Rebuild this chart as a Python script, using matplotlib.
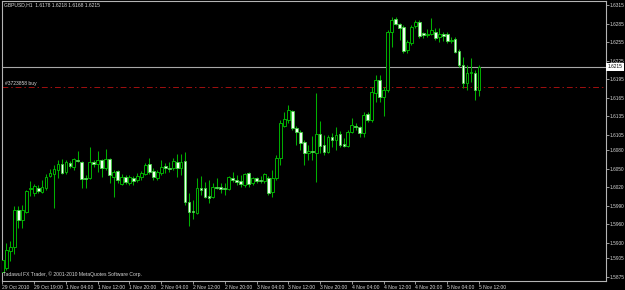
import numpy as np
import matplotlib
matplotlib.use('Agg')
import matplotlib.pyplot as plt

plt.rcParams['font.family'] = ['Liberation Sans', 'DejaVu Sans']

# GBPUSD H1 candles, 29 Oct 2010 -> 5 Nov 2010 12:00
opens = [
    1.5883, 1.5889, 1.5917, 1.5924, 1.5983, 1.5967, 1.5980, 1.6017, 1.6011, 1.6019,
    1.6012, 1.6019, 1.6038, 1.6042, 1.6048, 1.6058, 1.6045, 1.6059, 1.6053, 1.6064,
    1.6061, 1.6035, 1.6035, 1.6061, 1.6058, 1.6064, 1.6051, 1.6066, 1.6037, 1.6046,
    1.6025, 1.6037, 1.6027, 1.6035, 1.6032, 1.6037, 1.6042, 1.6058, 1.6046, 1.6035,
    1.6043, 1.6055, 1.6051, 1.6051, 1.6061, 1.6051, 1.6063, 1.5996, 1.5982, 1.5978,
    1.6019, 1.6019, 1.6006, 1.6004, 1.6021, 1.6021, 1.6019, 1.6017, 1.6035, 1.6032,
    1.6030, 1.6024, 1.6043, 1.6027, 1.6035, 1.6032, 1.6030, 1.6035, 1.6012, 1.6035,
    1.6067, 1.6119, 1.6129, 1.6144, 1.6116, 1.6110, 1.6093, 1.6076, 1.6079, 1.6076,
    1.6106, 1.6089, 1.6077, 1.6101, 1.6097, 1.6106, 1.6090, 1.6087, 1.6110, 1.6119,
    1.6118, 1.6108, 1.6139, 1.6129, 1.6173, 1.6194, 1.6166, 1.6178, 1.6271, 1.6292,
    1.6284, 1.6279, 1.6242, 1.6254, 1.6281, 1.6288, 1.6270, 1.6267, 1.6268, 1.6271,
    1.6263, 1.6268, 1.6268, 1.6257, 1.6260, 1.6241, 1.6218, 1.6189, 1.6205, 1.6205,
    1.6178]
highs = [
    1.5906, 1.5930, 1.5933, 1.5990, 1.5990, 1.5991, 1.6016, 1.6030, 1.6025, 1.6024,
    1.6032, 1.6042, 1.6050, 1.6056, 1.6064, 1.6066, 1.6064, 1.6063, 1.6067, 1.6079,
    1.6063, 1.6040, 1.6085, 1.6064, 1.6079, 1.6066, 1.6082, 1.6067, 1.6048, 1.6048,
    1.6042, 1.6040, 1.6040, 1.6038, 1.6043, 1.6046, 1.6059, 1.6067, 1.6051, 1.6048,
    1.6064, 1.6059, 1.6061, 1.6067, 1.6074, 1.6074, 1.6077, 1.6011, 1.6000, 1.6035,
    1.6038, 1.6029, 1.6032, 1.6027, 1.6035, 1.6027, 1.6027, 1.6038, 1.6045, 1.6040,
    1.6040, 1.6043, 1.6045, 1.6037, 1.6037, 1.6038, 1.6043, 1.6038, 1.6048, 1.6072,
    1.6129, 1.6142, 1.6153, 1.6145, 1.6119, 1.6113, 1.6097, 1.6089, 1.6103, 1.6173,
    1.6127, 1.6105, 1.6105, 1.6108, 1.6118, 1.6111, 1.6100, 1.6113, 1.6132, 1.6124,
    1.6119, 1.6142, 1.6142, 1.6182, 1.6202, 1.6202, 1.6182, 1.6275, 1.6296, 1.6296,
    1.6286, 1.6283, 1.6258, 1.6283, 1.6291, 1.6291, 1.6271, 1.6276, 1.6294, 1.6278,
    1.6278, 1.6271, 1.6271, 1.6263, 1.6263, 1.6244, 1.6231, 1.6218, 1.6229, 1.6210,
    1.6218]
lows = [
    1.5878, 1.5886, 1.5901, 1.5912, 1.5954, 1.5954, 1.5979, 1.6006, 1.6006, 1.6011,
    1.6011, 1.6016, 1.6037, 1.5987, 1.6035, 1.6042, 1.6042, 1.6051, 1.6048, 1.6061,
    1.6019, 1.6019, 1.6034, 1.6053, 1.6045, 1.6037, 1.6048, 1.6027, 1.6004, 1.6027,
    1.6024, 1.6025, 1.6024, 1.6024, 1.6029, 1.6032, 1.6040, 1.6042, 1.6032, 1.6032,
    1.6040, 1.6043, 1.6045, 1.6048, 1.6037, 1.6040, 1.5991, 1.5957, 1.5969, 1.5977,
    1.6008, 1.6003, 1.5995, 1.6003, 1.6017, 1.6011, 1.6008, 1.6016, 1.6029, 1.6024,
    1.6021, 1.6021, 1.6021, 1.6024, 1.6027, 1.6027, 1.6027, 1.6008, 1.6004, 1.6032,
    1.6056, 1.6118, 1.6124, 1.6113, 1.6089, 1.6080, 1.6056, 1.6064, 1.6064, 1.6029,
    1.6076, 1.6072, 1.6076, 1.6085, 1.6080, 1.6085, 1.6085, 1.6085, 1.6108, 1.6113,
    1.6101, 1.6101, 1.6126, 1.6126, 1.6158, 1.6158, 1.6135, 1.6174, 1.6247, 1.6283,
    1.6258, 1.6237, 1.6237, 1.6250, 1.6278, 1.6262, 1.6262, 1.6263, 1.6267, 1.6258,
    1.6255, 1.6257, 1.6254, 1.6254, 1.6237, 1.6215, 1.6181, 1.6178, 1.6190, 1.6161,
    1.6168]
closes = [
    1.5902, 1.5919, 1.5924, 1.5983, 1.5967, 1.5983, 1.6014, 1.6019, 1.6022, 1.6014,
    1.6021, 1.6037, 1.6043, 1.6050, 1.6058, 1.6043, 1.6061, 1.6055, 1.6066, 1.6063,
    1.6034, 1.6034, 1.6061, 1.6058, 1.6064, 1.6051, 1.6066, 1.6040, 1.6045, 1.6032,
    1.6037, 1.6029, 1.6037, 1.6030, 1.6038, 1.6043, 1.6056, 1.6045, 1.6037, 1.6045,
    1.6053, 1.6051, 1.6050, 1.6063, 1.6051, 1.6061, 1.5996, 1.5980, 1.5980, 1.6019,
    1.6016, 1.6004, 1.6003, 1.6021, 1.6019, 1.6017, 1.6017, 1.6037, 1.6032, 1.6029,
    1.6025, 1.6042, 1.6025, 1.6035, 1.6030, 1.6030, 1.6042, 1.6011, 1.6035, 1.6067,
    1.6124, 1.6131, 1.6145, 1.6116, 1.6110, 1.6092, 1.6076, 1.6079, 1.6077, 1.6106,
    1.6087, 1.6077, 1.6101, 1.6097, 1.6105, 1.6089, 1.6087, 1.6110, 1.6121, 1.6118,
    1.6108, 1.6137, 1.6129, 1.6174, 1.6194, 1.6166, 1.6178, 1.6271, 1.6291, 1.6284,
    1.6278, 1.6241, 1.6255, 1.6279, 1.6288, 1.6265, 1.6267, 1.6268, 1.6275, 1.6262,
    1.6268, 1.6265, 1.6257, 1.6258, 1.6239, 1.6218, 1.6189, 1.6205, 1.6207, 1.6178,
    1.6215]

# axis labels
price_ticks = [1.6315, 1.6285, 1.6255, 1.6225, 1.6195, 1.6165, 1.6135, 1.6105,
               1.6080, 1.6050, 1.6020, 1.5990, 1.5960, 1.5930, 1.5905, 1.5875]
time_labels = ['29 Oct 2010', '29 Oct 19:00', '1 Nov 04:00', '1 Nov 12:00', '1 Nov 20:00',
               '2 Nov 04:00', '2 Nov 12:00', '2 Nov 20:00', '3 Nov 04:00', '3 Nov 12:00',
               '3 Nov 20:00', '4 Nov 04:00', '4 Nov 12:00', '4 Nov 20:00', '5 Nov 04:00',
               '5 Nov 12:00']
bid_price = 1.6215
order_price = 1.6182
header = 'GBPUSD,H1  1.6178 1.6218 1.6168 1.6215'
footer = 'Tadawul FX Trader, \u00a9 2001-2010 MetaQuotes Software Corp.'
order_label = '#3723858 buy'

o = np.array(opens); h = np.array(highs); l = np.array(lows); c = np.array(closes)
x = np.arange(len(o))

green = '#00b000'
frame = '#b4b4b4'
txt = '#d8d8d8'
fs = 3.6

fig = plt.figure(figsize=(6.25, 2.9), dpi=100, facecolor='black')
ax = fig.add_axes([2/625, 9/290, 604/625, 280/290], facecolor='black')

# wicks then bodies
ax.vlines(x, l, h, color=green, linewidth=0.75, zorder=2)
bull = c >= o
body = np.where(np.abs(c - o) < 0.00008, 0.00008, c - o)
ax.bar(x[bull], body[bull], bottom=o[bull], width=0.7, color='black',
       edgecolor=green, linewidth=0.7, zorder=3)
ax.bar(x[~bull], body[~bull], bottom=o[~bull], width=0.7, color='#f2fff2',
       edgecolor='#40d040', linewidth=0.6, zorder=3)

# bid line and order line
ax.axhline(bid_price, color='#a8a8a8', linewidth=0.8, zorder=1)
ax.axhline(order_price, color='#a01010', linewidth=0.7, dashes=(6, 3, 1.5, 3), zorder=1)

ax.set_xlim(-0.1, 152.0)
ax.set_ylim(1.58685, 1.63215)

for s in ax.spines.values():
    s.set_color(frame)
    s.set_linewidth(0.8)

ax.yaxis.tick_right()
ax.set_yticks(price_ticks, [f'{v:.4f}' for v in price_ticks])
ax.tick_params(axis='y', colors=frame, labelcolor=txt, labelsize=3.4, length=2, width=0.6, pad=0.8)
ax.set_xticks(np.arange(0, 121, 8), time_labels)
ax.tick_params(axis='x', colors=frame, labelcolor=txt, labelsize=fs, length=2.5, width=0.6, pad=0.5)
for lab in ax.get_xticklabels():
    lab.set_horizontalalignment('left')

# current price box on the price scale
ax.text(1.0025, bid_price, f'{bid_price:.4f}', transform=ax.get_yaxis_transform(),
        ha='left', va='center', fontsize=3.4, color='black', clip_on=False,
        bbox=dict(boxstyle='square,pad=0.25', fc='white', ec='none'))

fig.text(4/625, 1 - 5/290, header, fontsize=fs, color=txt, va='center', ha='left')
fig.text(5/625, 1 - 84/290, order_label, fontsize=fs, color=txt, va='center', ha='left')
fig.text(3/625, 1 - 274/290, footer, fontsize=fs, color=txt, va='center', ha='left')

fig.savefig('out.png', dpi=100, facecolor='black')
